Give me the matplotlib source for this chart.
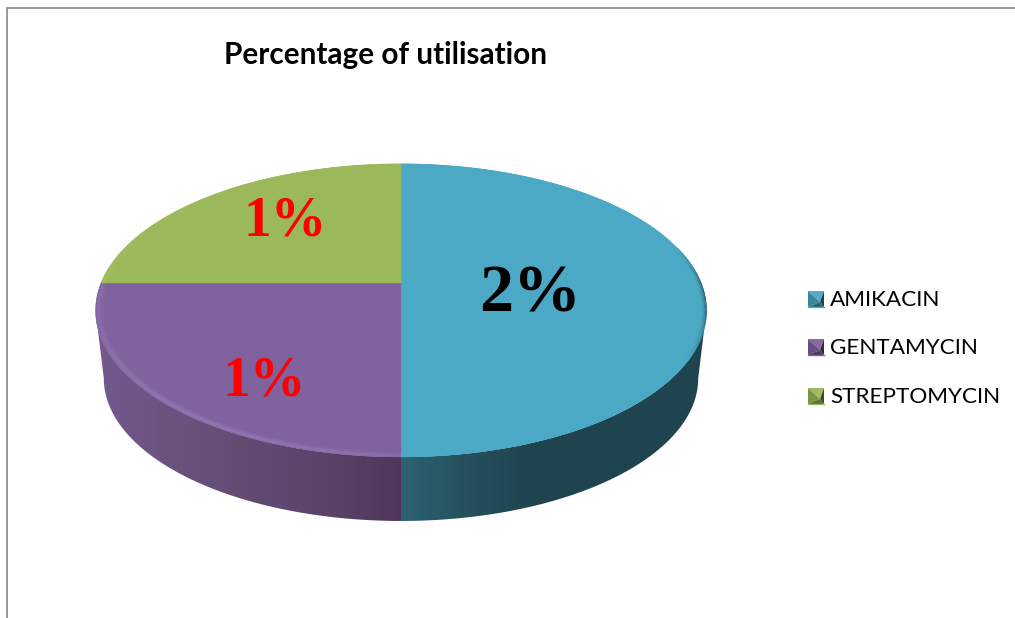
import numpy as np
import matplotlib
matplotlib.use("Agg")
import matplotlib.pyplot as plt
from matplotlib.collections import LineCollection
from matplotlib.colors import to_rgb
from matplotlib.patches import Polygon

# Data
categories = ["AMIKACIN", "GENTAMYCIN", "STREPTOMYCIN"]
values = [2, 1, 1]
labels = ["2%", "1%", "1%"]
title = "Percentage of utilisation"

# Style
top_colors = ["#4BA9C5", "#80629E", "#9BB95A"]
light_colors = ["#54B4D0", "#B49CDC", "#B4D070"]
wall_stops = [
    ([401, 470, 530, 710], ["#2C6272", "#254F5C", "#1F444F", "#1F444F"]),
    ([95, 200, 330, 401], ["#73598F", "#675079", "#5A4369", "#4D3659"]),
    ([95, 401], ["#73598F", "#73598F"]),
]

W, H = 1015, 618
CX, CY = 401.0, 283.0
A, B, C = 300.0, 141.3, 0.1877
WALL_SCALE, WALL_CY = 0.973, 351.7
SILHOUETTE = np.degrees(np.arcsin(C))


def project(theta_deg, r=1.0, cy=CY, scale=1.0):
    t = np.radians(theta_deg)
    u, v = r * np.cos(t), r * np.sin(t)
    w = 1 + C * v
    return CX + scale * A * u / w, cy - scale * B * v / w


def blend(c1, c2, f):
    c1, c2 = np.array(to_rgb(c1)), np.array(to_rgb(c2))
    return tuple(c1 + (c2 - c1) * f)


fig = plt.figure(figsize=(W / 100, H / 100), dpi=100, facecolor="white")
ax = fig.add_axes([0, 0, 1, 1])
ax.axis("off")

# Frame
ax.plot([7, 7, W], [H, 8, 8], color="#868686", lw=1.2, solid_joinstyle="miter")

# Slice angles: clockwise from 12 o'clock
fractions = np.array(values, dtype=float) / np.sum(values)
edges = 90 - 360 * np.concatenate([[0], np.cumsum(fractions)])

# Walls, only the front part of the pie shows one
for i in range(len(values)):
    hi, lo = edges[i], edges[i + 1]
    hi, lo = min(hi, -SILHOUETTE), max(lo, -180 + SILHOUETTE)
    if hi <= lo:
        continue
    th = np.linspace(lo, hi, 260)
    xt, yt = project(th)
    xb, yb = project(th, cy=WALL_CY, scale=WALL_SCALE)
    outline = np.r_[np.c_[xt, yt], np.c_[xb[::-1], yb[::-1]]]
    clip = Polygon(outline, closed=True, transform=ax.transData, fc="none", ec="none")
    ax.add_patch(clip)
    xs, stops = wall_stops[i]
    rgb = np.array([to_rgb(s) for s in stops])
    x0, x1 = outline[:, 0].min(), outline[:, 0].max()
    grid = np.linspace(x0, x1, 400)
    row = np.stack([np.interp(grid, xs, rgb[:, k]) for k in range(3)], axis=1)[None, :, :]
    im = ax.imshow(row, extent=[x0, x1, outline[:, 1].max(), outline[:, 1].min()],
                   aspect="auto", interpolation="bilinear")
    im.set_clip_path(clip)

ax.set_xlim(0, W)
ax.set_ylim(H, 0)

# Top faces
for i in range(len(values)):
    th = np.linspace(edges[i + 1], edges[i], 200)
    x, y = project(th)
    ax.fill(np.r_[CX, x], np.r_[CY, y], color=top_colors[i], lw=0.3)

# Bevel along the rim
rim_angles = [
    ([-90, -60, -25, 0, 90], [0.1, 0.0, 0.0, 0.0, 0.0]),
    ([-180, -165, -130, -100, -90], [0.5, 0.45, 0.8, 0.65, 0.35]),
    ([-270, -200, -180], [0.0, 0.2, 0.6]),
]
layers = [(0.997, 0.25), (0.992, 0.55), (0.987, 0.4), (0.982, 0.25), (0.977, 0.1)]
for i in range(len(values)):
    th = np.linspace(edges[i + 1], edges[i], 300)
    for r, weight in layers:
        x, y = project(th, r=r)
        segs = np.stack([np.c_[x[:-1], y[:-1]], np.c_[x[1:], y[1:]]], axis=1)
        strength = np.interp(th[:-1], rim_angles[i][0], rim_angles[i][1]) * weight
        cols = [blend(top_colors[i], light_colors[i], s) for s in strength]
        ax.add_collection(LineCollection(segs, colors=cols, linewidths=1.1, capstyle="butt"))

# Dark shading at the right end of the rim
th = np.linspace(-30, 15, 100)
for r, weight in [(0.999, 0.7), (0.994, 0.4), (0.989, 0.15)]:
    x, y = project(th, r=r)
    segs = np.stack([np.c_[x[:-1], y[:-1]], np.c_[x[1:], y[1:]]], axis=1)
    strength = np.interp(th[:-1], [-30, -12, 0, 15], [0, 1, 1, 0]) * weight
    cols = [blend(top_colors[0], "#1F444F", s) for s in strength]
    ax.add_collection(LineCollection(segs, colors=cols, linewidths=1.1))

# Data labels
label_pos = [(530, 295), (264, 382), (285, 221)]
label_colors = ["black", "red", "red"]
label_sizes = [49, 40, 40]
for s, (x, y), c, fs in zip(labels, label_pos, label_colors, label_sizes):
    ax.text(x, y, s, color=c, fontsize=fs, fontweight="bold", family="Liberation Serif",
            ha="center", va="center")

# Title
ax.text(386, 55, title, fontsize=21.4, fontweight="bold", family="Lato", ha="center",
        va="center", color="black")

# Legend with bevelled keys
key_y = [299, 347, 396]
key_x, key_half = 816, 8
for name, y, base in zip(categories, key_y, top_colors):
    l, r, t, b = key_x - key_half, key_x + key_half, y - key_half, y + key_half
    mx, my = key_x + 4, y + 3
    ax.fill([l, r, mx], [t, t, my], color=blend(base, "#FFFFFF", 0.05), lw=0)
    ax.fill([l, l, mx], [t, b, my], color=blend(base, "#000000", 0.2), lw=0)
    ax.fill([r, r, mx], [t, b, my], color=blend(base, "#000000", 0.6), lw=0)
    ax.fill([l, r, mx], [b, b, my], color=blend(base, "#000000", 0.4), lw=0)
    ax.plot([l, r], [b, b], color=base, lw=1)
    ax.text(830, y + 1, name, fontsize=16.2, family="Lato", ha="left", va="center", color="black")

ax.set_xlim(0, W)
ax.set_ylim(H, 0)
fig.savefig("out.png", dpi=100, facecolor="white")
